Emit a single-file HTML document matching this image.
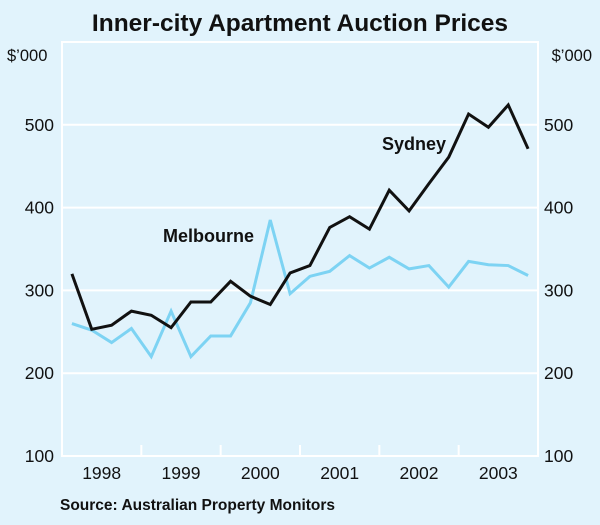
<!DOCTYPE html>
<html><head><meta charset="utf-8"><style>
html,body{margin:0;padding:0;background:#e1f3fc;}
svg{display:block;font-family:"Liberation Sans",Arial,sans-serif;}
</style></head><body>
<svg id="chart" width="600" height="525">
<rect x="0" y="0" width="600" height="525" fill="#e1f3fc"/>
<text x="300" y="31" text-anchor="middle" font-size="24.5" font-weight="bold" fill="#111">Inner-city Apartment Auction Prices</text>
<text x="7" y="61" font-size="16.5" fill="#111">$’000</text>
<text x="592" y="61" text-anchor="end" font-size="16.5" fill="#111">$’000</text>
<g id="grid"></g><g id="lines"></g><g id="labels"></g>
<rect x="62" y="42" width="476" height="414" fill="none" stroke="#fff" stroke-width="2"/>
<text x="163" y="242" font-size="18" font-weight="bold" fill="#111">Melbourne</text>
<text x="382" y="150" font-size="18" font-weight="bold" fill="#111">Sydney</text>
<text x="60" y="510" font-size="15.5" font-weight="bold" fill="#111">Source: Australian Property Monitors</text>
</svg>
<script>
const years = ["1998","1999","2000","2001","2002","2003"];
const yTicks = [100,200,300,400,500];
const sydney = [320,253,258,275,270,255,286,286,311,293,283,321,330,376,389,374,421,396,429,461,513,497,524,471];
const melbourne = [260,252,237,254,220,275,220,245,245,285,385,296,317,323,342,327,340,326,330,304,335,331,330,318];
const L=62,R=538,T=42,B=456,yMin=100,yMax=600;
const nQ=years.length*4;
function xq(i){return L+(i+0.5)*(R-L)/nQ;}
function yv(v){return B-(v-yMin)/(yMax-yMin)*(B-T);}
const NS="http://www.w3.org/2000/svg";
function mk(tag,attrs,parent){const e=document.createElementNS(NS,tag);for(const k in attrs)e.setAttribute(k,attrs[k]);parent.appendChild(e);return e;}
const grid=document.getElementById('grid'),lines=document.getElementById('lines'),labels=document.getElementById('labels');
yTicks.forEach(v=>{
  const y=yv(v);
  if(v>yMin){const g=mk('line',{x1:L,x2:R,y1:y,y2:y,stroke:'#fff','stroke-width':2},grid);
  
  }
  const t1=mk('text',{x:54,y:y+6,'text-anchor':'end','font-size':17.5,fill:'#111'},labels);t1.textContent=v;
  
  
  const t2=mk('text',{x:544,y:y+6,'font-size':17.5,fill:'#111'},labels);t2.textContent=v;
  
  
});
years.forEach((yr,i)=>{
  const x0=L+i*4*(R-L)/nQ, xc=L+(i*4+2)*(R-L)/nQ;
  if(i>0){const tk=mk('line',{x1:x0,x2:x0,y1:B,y2:B-11,stroke:'#fff','stroke-width':2},grid);
  
  }
  const t=mk('text',{x:xc,y:479,'text-anchor':'middle','font-size':17.5,fill:'#111'},labels);t.textContent=yr;
  
  
});
function series(data,color,name){
  const p=mk('polyline',{points:data.map((v,i)=>xq(i)+','+yv(v)).join(' '),fill:'none',stroke:color,'stroke-width':3,'stroke-linejoin':'miter'},lines);
  
  
}
series(melbourne,'#7dd3f3','melbourne-line');
series(sydney,'#111','sydney-line');
</script>
</body></html>
